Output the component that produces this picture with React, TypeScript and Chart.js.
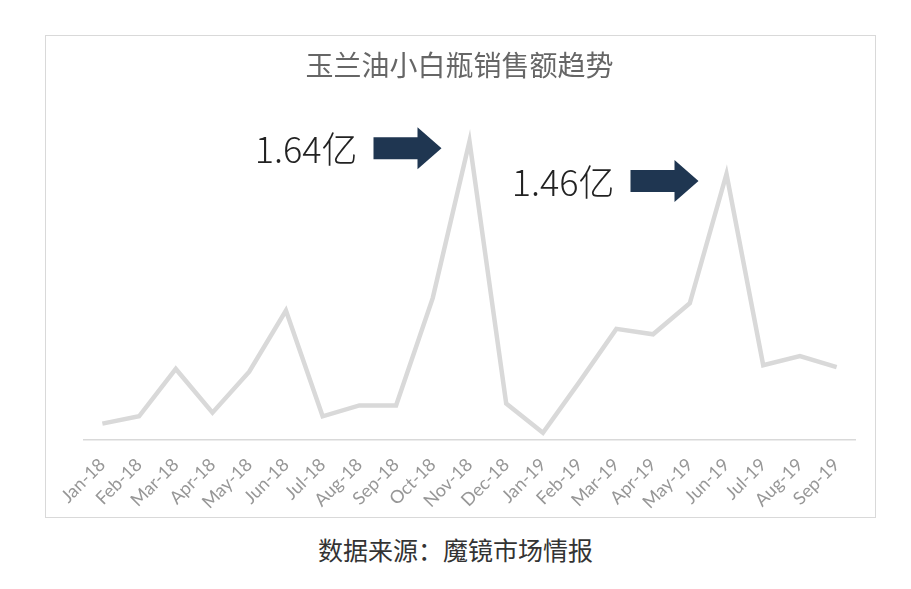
import React, { useEffect, useRef } from 'react';
import { Chart, registerables } from 'chart.js';

Chart.register(...registerables);

// 月份
const months = [
  'Jan-18', 'Feb-18', 'Mar-18', 'Apr-18', 'May-18', 'Jun-18', 'Jul-18',
  'Aug-18', 'Sep-18', 'Oct-18', 'Nov-18', 'Dec-18', 'Jan-19', 'Feb-19',
  'Mar-19', 'Apr-19', 'May-19', 'Jun-19', 'Jul-19', 'Aug-19', 'Sep-19',
];

// 销售额（亿元）
const sales = [
  0.09, 0.13, 0.39, 0.15, 0.375, 0.71, 0.13,
  0.19, 0.19, 0.78, 1.64, 0.2, 0.04, 0.32,
  0.61, 0.58, 0.75, 1.46, 0.41, 0.46, 0.4,
];

// 标注的峰值月份
const peakMonths = ['Nov-18', 'Jun-19'];

const TITLE = '玉兰油小白瓶销售额趋势';
const SOURCE = '数据来源：魔镜市场情报';

const peakNotes = {
  id: 'peakNotes',
  afterDatasetsDraw(chart: Chart) {
    const { ctx } = chart;
    const x = chart.scales.x;
    const y = chart.scales.y;
    ctx.save();
    peakMonths.forEach((m) => {
      const i = months.indexOf(m);
      const tipX = x.getPixelForValue(i) - 28;
      const tipY = y.getPixelForValue(sales[i]) + 7;
      const len = 68;
      const head = 24;
      const shaft = 11;
      const wing = 21;
      ctx.fillStyle = '#1f3651';
      ctx.beginPath();
      ctx.moveTo(tipX - len, tipY - shaft);
      ctx.lineTo(tipX - head, tipY - shaft);
      ctx.lineTo(tipX - head, tipY - wing);
      ctx.lineTo(tipX, tipY);
      ctx.lineTo(tipX - head, tipY + wing);
      ctx.lineTo(tipX - head, tipY + shaft);
      ctx.lineTo(tipX - len, tipY + shaft);
      ctx.closePath();
      ctx.fill();

      ctx.fillStyle = '#222';
      ctx.font = '300 36px "Noto Sans CJK SC", sans-serif';
      ctx.textAlign = 'right';
      ctx.textBaseline = 'middle';
      ctx.fillText(sales[i].toFixed(2) + '亿', tipX - len - 16, tipY + 1);
    });
    ctx.restore();
  },
};

const SalesChart: React.FC = () => {
  const chartRef = useRef<HTMLCanvasElement | null>(null);
  const chartInstance = useRef<Chart | null>(null);

  useEffect(() => {
    if (!chartRef.current) return;
    if (chartInstance.current) chartInstance.current.destroy();

    chartInstance.current = new Chart(chartRef.current, {
      type: 'line',
      data: {
        labels: months,
        datasets: [{
          data: sales,
          borderColor: '#d9d9d9',
          borderWidth: 4.5,
          pointRadius: 0,
          tension: 0,
          fill: false,
        }],
      },
      options: {
        responsive: true,
        maintainAspectRatio: false,
        animation: false,
        layout: { padding: { left: 18, right: 20, top: 0, bottom: 0 } },
        scales: {
          x: {
            offset: true,
            grid: { display: false },
            border: { display: true, color: '#d9d9d9', width: 1.5 },
            ticks: {
              color: '#979797',
              font: { family: 'Lato, sans-serif', size: 18 },
              minRotation: 45,
              maxRotation: 45,
              padding: 6,
              autoSkip: false,
            },
            afterFit: (scale: any) => { scale.height = 77; },
          },
          y: {
            min: 0,
            max: 1.8,
            grid: { display: false },
            border: { display: false },
            ticks: { display: false },
            afterFit: (scale: any) => { scale.width = 20; },
          },
        },
        plugins: {
          legend: { display: false },
          tooltip: { enabled: false },
          title: {
            display: true,
            text: TITLE,
            color: '#666',
            font: { family: '"Noto Sans CJK SC", sans-serif', size: 28, weight: 'normal' },
            padding: { top: 13, bottom: 29.4 },
          },
        },
      },
      plugins: [peakNotes],
    });

    return () => {
      if (chartInstance.current) {
        chartInstance.current.destroy();
        chartInstance.current = null;
      }
    };
  }, []);

  return <canvas ref={chartRef} />;
};

export default function App() {
  return (
    <div style={{ position: 'fixed', left: 0, top: 0, width: 911, height: 589, background: '#fff' }}>
      <div style={{
        position: 'absolute', left: 45, top: 35, width: 829, height: 481,
        border: '1px solid #d9d9d9',
      }}>
        <SalesChart />
      </div>
      <div style={{
        position: 'absolute', left: 0, top: 531, width: 911, textAlign: 'center',
        fontFamily: '"Noto Sans CJK SC", sans-serif', fontSize: 25, color: '#333',
      }}>
        {SOURCE}
      </div>
    </div>
  );
}
